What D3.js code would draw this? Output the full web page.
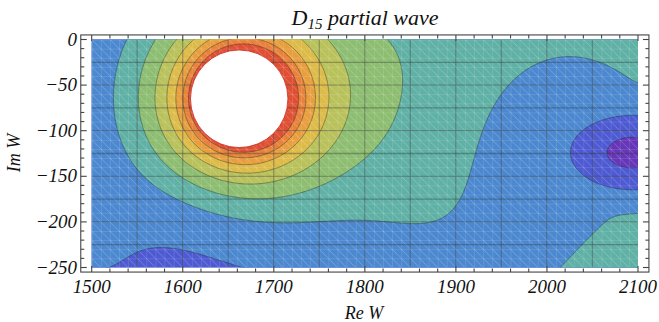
<!DOCTYPE html>
<html>
<head>
<meta charset="utf-8">
<script src="https://cdn.jsdelivr.net/npm/d3@7"></script>
<style>
  html, body { margin: 0; padding: 0; background: #fff; }
  svg { display: block; }
  text { font-family: "Liberation Serif", "Times New Roman", serif; font-style: italic; fill: #111; }
</style>
</head>
<body>
<svg id="chart" width="659" height="322"></svg>
<script>
// ── axis ranges and ticks ──
const reRange = [1500, 2100];
const imRange = [-250, 0];
const xTicks = [1500, 1600, 1700, 1800, 1900, 2000, 2100];
const yTicks = [0, -50, -100, -150, -200, -250];
const xGrid = d3.range(1550, 2100, 50);
const yGrid = d3.range(-225, 0, 25);

// ── the amplitude landscape ──
// resonance pole (centre of the white disc), its strength, its left/right asymmetry
// and the radius of the white (off-scale) disc
const pole = { re: 1662, im: -65, strength: 594, asym: 0.06, clipRadius: 53.5 };
// zero on the right edge (purple spot)
const zero = { re: 2094, im: -124, floor: 0.3, slope: 1 / 24, leftStretch: 0.6 };
// smooth background that rises from left to right
const ramp = { low: -1.05, rise: 2.85, center: 1825, width: 55, tilt: -0.1 };
// valleys and bumps of the background: [re, im, sigmaAlong, sigmaCross, angleDeg, height]
const bgFeatures = [
  [1985, -115, 72, 85, 0, -1.0],
  [1930, -240, 120, 50, 30, -0.25],
  [1640, -190, 80, 50, 0, -0.6],
  [1480, -250, 60, 60, 0, 0.85],
  [2110, -265, 60, 60, 0, 0.5]
];
// contour levels and band colours (lowest band first)
const levels = [1, 2, 3, 4, 5, 6, 7, 8, 9];
const bandColors = ['#6536b8', '#4d5ad2', '#4b88cf', '#5fb0a5', '#8cbd70',
                    '#b8c15a', '#dcbb48', '#e79f3e', '#e8823a', '#df4f33'];

const svg = d3.select('#chart');
const x = d3.scaleLinear().domain(reRange).range([91.7, 638]);
const y = d3.scaleLinear().domain(imRange).range([267.5, 39.5]);

function softMin(a, b, k) {
  const m = Math.min(a, b);
  return m - k * Math.log(Math.exp((m - a) / k) + Math.exp((m - b) / k));
}

function field(re, im) {
  const dxp = re - pole.re, dyp = im - pole.im;
  const rp = Math.max(1, Math.hypot(dxp, dyp));
  let v = pole.strength * (1 + pole.asym * dxp / rp) / rp;
  const x0 = ramp.center + ramp.tilt * (im - pole.im);
  v += ramp.low + ramp.rise / (1 + Math.exp(-(re - x0) / ramp.width));
  bgFeatures.forEach(([gr, gi, sa, sc, ang, h]) => {
    const a = ang * Math.PI / 180, dx = re - gr, dy = im - gi;
    const along = dx * Math.cos(a) + dy * Math.sin(a);
    const cross = dx * Math.sin(a) - dy * Math.cos(a);
    v += h * Math.exp(-(along * along) / (2 * sa * sa) - (cross * cross) / (2 * sc * sc));
  });
  const dzx = re - zero.re, dzy = im - zero.im;
  const rz = Math.hypot(dzx < 0 ? dzx * zero.leftStretch : dzx, dzy);
  return softMin(v, zero.floor + rz * zero.slope, 0.15);
}

// ── sample the landscape on a grid a bit larger than the plot, then clip ──
const G = { re0: 1488, re1: 2112, im0: -262, im1: 12, step: 1 };
const nx = Math.round((G.re1 - G.re0) / G.step) + 1;
const ny = Math.round((G.im1 - G.im0) / G.step) + 1;
const values = new Float64Array(nx * ny);
for (let j = 0; j < ny; j++)
  for (let i = 0; i < nx; i++)
    values[j * nx + i] = field(G.re0 + i * G.step, G.im1 - j * G.step);

const gridProj = d3.geoTransform({
  point(gx, gy) {
    this.stream.point(x(G.re0 + (gx - 0.5) * G.step), y(G.im1 - (gy - 0.5) * G.step));
  }
});
const path = d3.geoPath(gridProj);
const contours = d3.contours().size([nx, ny]).thresholds(levels)(values);

const defs = svg.append('defs');
defs.append('clipPath').attr('id', 'plot-clip')
  .append('rect')
  .attr('x', x(1500)).attr('y', y(0))
  .attr('width', x(2100) - x(1500)).attr('height', y(-250) - y(0));

// fine mesh texture seen in the picture
const cw = x(1510) - x(1500), chh = y(-10) - y(0);
const pat = defs.append('pattern').attr('id', 'mesh')
  .attr('patternUnits', 'userSpaceOnUse')
  .attr('x', x(1500)).attr('y', y(0))
  .attr('width', cw).attr('height', chh);
pat.append('path')
  .attr('d', `M0,0H${cw}M0,0V${chh}M0,0L${cw},${chh}`)
  .attr('stroke', 'rgba(255,255,255,0.28)').attr('stroke-width', 0.8).attr('fill', 'none');

const plot = svg.append('g').attr('clip-path', 'url(#plot-clip)');
plot.append('rect')
  .attr('x', x(1500)).attr('y', y(0))
  .attr('width', x(2100) - x(1500)).attr('height', y(-250) - y(0))
  .attr('fill', bandColors[0]);

plot.selectAll('path.band')
  .data(contours)
  .join('path')
  .attr('class', 'band')
  .attr('d', path)
  .attr('fill', (d, i) => bandColors[i + 1]);

plot.append('rect')
  .attr('x', x(1500)).attr('y', y(0))
  .attr('width', x(2100) - x(1500)).attr('height', y(-250) - y(0))
  .attr('fill', 'url(#mesh)');

plot.selectAll('path.cline')
  .data(contours)
  .join('path')
  .attr('class', 'cline')
  .attr('d', path)
  .attr('fill', 'none')
  .attr('stroke', 'rgba(40,40,40,0.45)')
  .attr('stroke-width', 0.9);

// grid lines
plot.selectAll('line.gx').data(xGrid).join('line')
  .attr('x1', d => x(d)).attr('x2', d => x(d))
  .attr('y1', y(0)).attr('y2', y(-250))
  .attr('stroke', 'rgba(50,50,50,0.35)').attr('stroke-width', 1.3);
plot.selectAll('line.gy').data(yGrid).join('line')
  .attr('y1', d => y(d)).attr('y2', d => y(d))
  .attr('x1', x(1500)).attr('x2', x(2100))
  .attr('stroke', 'rgba(50,50,50,0.35)').attr('stroke-width', 1.3);

// white off-scale disc round the pole stays clean
plot.append('ellipse')
  .attr('cx', x(pole.re)).attr('cy', y(pole.im))
  .attr('rx', x(pole.re + pole.clipRadius) - x(pole.re))
  .attr('ry', y(pole.im - pole.clipRadius) - y(pole.im))
  .attr('fill', '#fff')
  .attr('stroke', 'rgba(200,30,20,0.85)')
  .attr('stroke-width', 0.9);

// ── frame with inward ticks ──
const fx0 = x(1488), fx1 = x(2112), fy0 = y(5), fy1 = y(-255);
const frame = svg.append('g').attr('stroke', '#444').attr('stroke-width', 1.1).attr('fill', 'none');
frame.append('rect').attr('x', fx0).attr('y', fy0).attr('width', fx1 - fx0).attr('height', fy1 - fy0);

const xMinor = d3.range(1500, 2101, 20);
const yMinor = d3.range(-250, 1, 10);
frame.selectAll('line.xt').data(xMinor).join('line')
  .attr('x1', d => x(d)).attr('x2', d => x(d))
  .attr('y1', fy1).attr('y2', d => fy1 - (d % 100 === 0 ? 6 : 3.5));
frame.selectAll('line.xtt').data(xMinor).join('line')
  .attr('x1', d => x(d)).attr('x2', d => x(d))
  .attr('y1', fy0).attr('y2', d => fy0 + (d % 100 === 0 ? 6 : 3.5));
frame.selectAll('line.yt').data(yMinor).join('line')
  .attr('y1', d => y(d)).attr('y2', d => y(d))
  .attr('x1', fx0).attr('x2', d => fx0 + (d % 50 === 0 ? 6 : 3.5));
frame.selectAll('line.ytr').data(yMinor).join('line')
  .attr('y1', d => y(d)).attr('y2', d => y(d))
  .attr('x1', fx1).attr('x2', d => fx1 - (d % 50 === 0 ? 6 : 3.5));

svg.selectAll('text.xl').data(xTicks).join('text')
  .attr('class', 'xl')
  .attr('x', d => x(d)).attr('y', 293)
  .attr('text-anchor', 'middle')
  .attr('font-size', 19)
  .text(d => d);
svg.selectAll('text.yl').data(yTicks).join('text')
  .attr('class', 'yl')
  .attr('x', 77).attr('y', d => y(d) + 6)
  .attr('text-anchor', 'end')
  .attr('font-size', 19)
  .text(d => d === 0 ? '0' : '\u2212' + Math.abs(d));

svg.append('text')
  .attr('x', 364).attr('y', 319)
  .attr('text-anchor', 'middle').attr('font-size', 18)
  .text('Re W');
svg.append('text')
  .attr('transform', 'translate(20,153) rotate(-90)')
  .attr('text-anchor', 'middle').attr('font-size', 18)
  .text('Im W');

const title = svg.append('text')
  .attr('x', 365).attr('y', 25)
  .attr('text-anchor', 'middle').attr('font-size', 22);
title.append('tspan').text('D');
title.append('tspan').attr('font-size', 15).attr('dy', 4).text('15');
title.append('tspan').attr('dy', -4).text(' partial wave');
</script>
</body>
</html>
